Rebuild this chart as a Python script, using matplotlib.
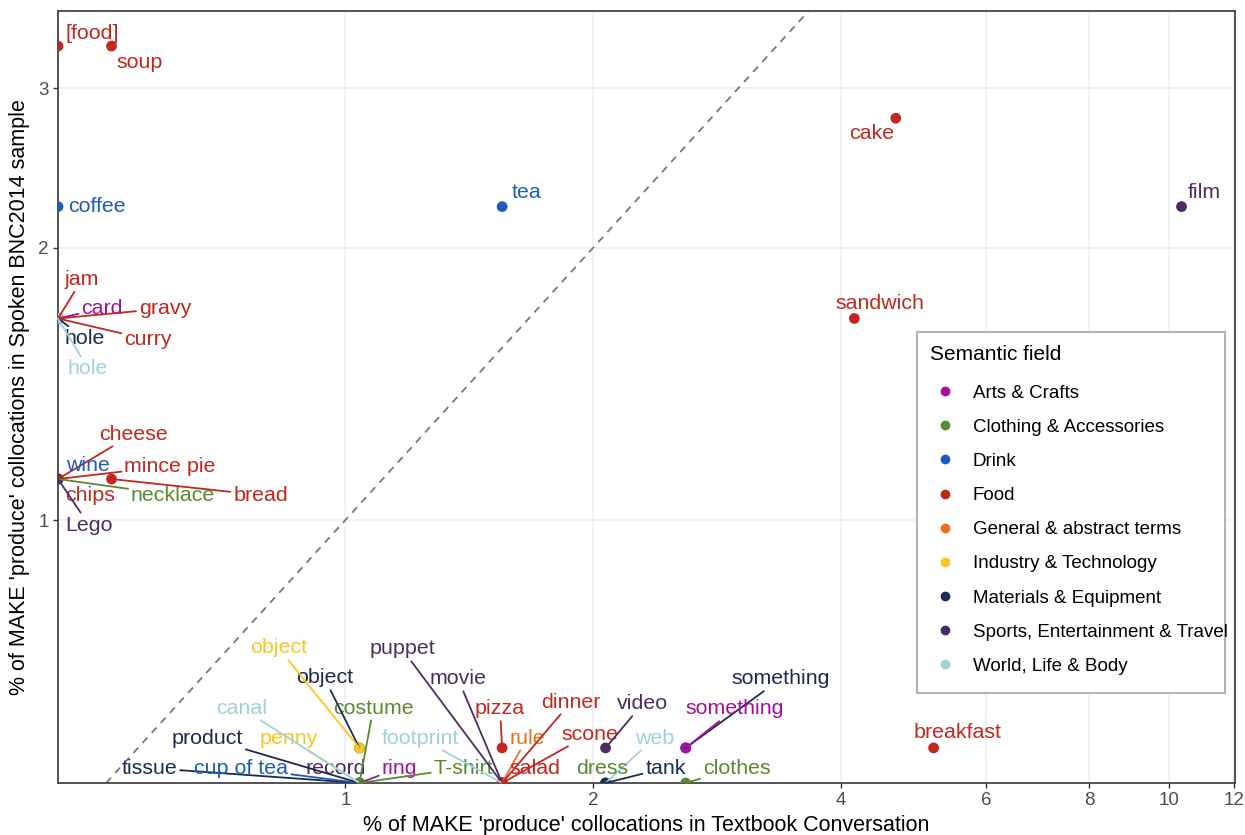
import numpy as np
import matplotlib
matplotlib.use("Agg")
import matplotlib.pyplot as plt
from matplotlib.lines import Line2D
from matplotlib.patches import Rectangle
from matplotlib.ticker import NullLocator

plt.rcParams["font.family"] = ["Liberation Sans", "DejaVu Sans"]

# collocates of MAKE 'produce' -- % in each corpus (0 = not attested)
words = ["[food]", "soup", "coffee", "tea", "cake", "film", "sandwich", "breakfast",
         "jam", "card", "gravy", "curry", "hole", "hole",
         "cheese", "wine", "mince pie", "chips", "necklace", "Lego", "bread",
         "tissue", "cup of tea", "record", "product", "penny", "canal", "costume",
         "ring", "T-shirt", "object", "object",
         "puppet", "movie", "footprint", "rule", "salad", "scone", "dinner", "pizza",
         "video", "web", "dress", "tank", "something", "something", "clothes"]
fields = ["Food", "Food", "Drink", "Drink", "Food", "Sports, Entertainment & Travel", "Food", "Food",
          "Food", "Arts & Crafts", "Food", "Food", "Materials & Equipment", "World, Life & Body",
          "Food", "Drink", "Food", "Food", "Clothing & Accessories", "Sports, Entertainment & Travel", "Food",
          "Materials & Equipment", "Drink", "Sports, Entertainment & Travel", "Materials & Equipment",
          "Industry & Technology", "World, Life & Body", "Clothing & Accessories",
          "Arts & Crafts", "Clothing & Accessories", "Materials & Equipment", "Industry & Technology",
          "Sports, Entertainment & Travel", "Sports, Entertainment & Travel", "World, Life & Body",
          "General & abstract terms", "Food", "Food", "Food", "Food",
          "Sports, Entertainment & Travel", "World, Life & Body", "Clothing & Accessories",
          "Materials & Equipment", "Materials & Equipment", "Arts & Crafts", "Clothing & Accessories"]
textbook = [0, 0.52, 0, 1.55, 4.66, 10.36, 4.15, 5.18,
            0, 0, 0, 0, 0, 0,
            0, 0, 0, 0, 0, 0, 0.52,
            1.04, 1.04, 1.04, 1.04, 1.04, 1.04, 1.04,
            1.04, 1.04, 1.04, 1.04,
            1.55, 1.55, 1.55, 1.55, 1.55, 1.55, 1.55, 1.55,
            2.07, 2.07, 2.07, 2.07, 2.59, 2.59, 2.59]
spoken = [3.34, 3.34, 2.22, 2.22, 2.78, 2.22, 1.67, 0.56,
          1.67, 1.67, 1.67, 1.67, 1.67, 1.67,
          1.11, 1.11, 1.11, 1.11, 1.11, 1.11, 1.11,
          0, 0, 0, 0, 0, 0, 0,
          0, 0, 0.56, 0.56,
          0, 0, 0, 0, 0, 0, 0, 0.56,
          0.56, 0, 0, 0, 0.56, 0.56, 0]

field_names = ["Arts & Crafts", "Clothing & Accessories", "Drink", "Food",
               "General & abstract terms", "Industry & Technology", "Materials & Equipment",
               "Sports, Entertainment & Travel", "World, Life & Body"]
field_colours = ["#A1109F", "#578B2E", "#1E5BBE", "#C3261F", "#EA6F1E",
                 "#F9C623", "#1B2A52", "#4C2D63", "#A0D2D8"]
colour_of = dict(zip(field_names, field_colours))

# repelled label offsets (pixels: right, up)
label_dx = [34, 28, 39, 24, -24, 23, 26, 24,
            24, 44, 107, 90, 27, 30,
            75, 30, 112, 32, 115, 31, 149,
            -210, -118, -24, -152, -71, -118, 14,
            40, 104, -35, -81,
            -100, -44, -82, 25, 33, 88, 69, -2,
            37, 49, -3, 60, 95, 49, 51]
label_dy = [13, -16, 0, 14, -15, 14, 15, 15,
            39, 10, 10, -21, -20, -50,
            45, 14, 13, -16, -16, -46, -16,
            15, 15, 15, 45, 45, 75, 75,
            15, 15, 70, 100,
            134, 104, 45, 45, 15, 49, 81, 39,
            44, 45, 15, 15, 69, 39, 15]
no_segment = {"[food]", "soup", "coffee", "tea", "cake", "film", "sandwich", "breakfast",
              "wine", "chips", "record", "salad", "dress"}


def log_limits(vals, expand=0.05):
    v = np.log2([a for a in vals if a > 0])
    pad = (v.max() - v.min()) * expand
    return 2 ** (v.min() - pad), 2 ** (v.max() + pad)


xlim = log_limits(textbook)
ylim = log_limits(spoken)
# zeros go on the panel edge (like -Inf in ggplot)
xs = np.where(np.array(textbook) > 0, textbook, xlim[0])
ys = np.where(np.array(spoken) > 0, spoken, ylim[0])
cols = [colour_of[f] for f in fields]

fig = plt.figure(figsize=(12.45, 8.35), dpi=100)
ax = fig.add_axes([58 / 1245, 1 - 783 / 835, (1235 - 58) / 1245, (783 - 11) / 835])
ax.set_xscale("log", base=2)
ax.set_yscale("log", base=2)
ax.set_xlim(xlim)
ax.set_ylim(ylim)
ax.set_xticks([1, 2, 4, 6, 8, 10, 12])
ax.set_xticklabels(["1", "2", "4", "6", "8", "10", "12"])
ax.set_yticks([1, 2, 3])
ax.set_yticklabels(["1", "2", "3"])
ax.xaxis.set_minor_locator(NullLocator())
ax.yaxis.set_minor_locator(NullLocator())
ax.tick_params(length=3.6, width=1.0, color="#333333", labelcolor="#4D4D4D",
               labelsize=13.5, pad=3)
ax.grid(True, color="#EFEFEF", lw=1.2)
ax.set_axisbelow(True)
for s in ax.spines.values():
    s.set_color("#444444")
    s.set_linewidth(1.3)

ax.axline((1, 1), (2, 2), color="#777777", ls=(0, (4, 3.5)), lw=1.3, zorder=1)

ax.scatter(xs, ys, c=cols, s=60, linewidths=0, zorder=3)

for w, x, y, c, dx, dy in zip(words, xs, ys, cols, label_dx, label_dy):
    arrow = None
    if w not in no_segment:
        arrow = dict(arrowstyle="-", color=c, lw=1.3, shrinkA=0, shrinkB=0)
    ax.annotate(w, xy=(x, y), xytext=(dx, dy), textcoords="offset pixels",
                ha="center", va="center", fontsize=15.4, color=c,
                arrowprops=arrow, annotation_clip=False, zorder=4)

ax.set_xlabel("% of MAKE 'produce' collocations in Textbook Conversation",
              fontsize=15.5, labelpad=4)
ax.set_ylabel("% of MAKE 'produce' collocations in Spoken BNC2014 sample",
              fontsize=15.5, labelpad=6)

# legend box drawn separately so the last entry can overhang it a little
ax.add_patch(Rectangle((0.7298, 0.1166), 0.2617, 0.4676, transform=ax.transAxes,
                       facecolor="white", edgecolor="#B3B3B3", lw=1.5, zorder=5))
handles = [Line2D([], [], ls="none", marker="o", ms=6, color=c) for c in field_colours]
leg = ax.legend(handles, field_names, title="Semantic field", loc="upper left",
                bbox_to_anchor=(0.730, 0.584), frameon=False,
                fontsize=13.5, title_fontsize=15,
                borderpad=0.7, handlelength=1.6, handletextpad=0.65,
                labelspacing=0.91, alignment="left", borderaxespad=0)
leg._legend_box.sep = 14.5
leg.set_zorder(6)

fig.savefig("out.png", dpi=100)
